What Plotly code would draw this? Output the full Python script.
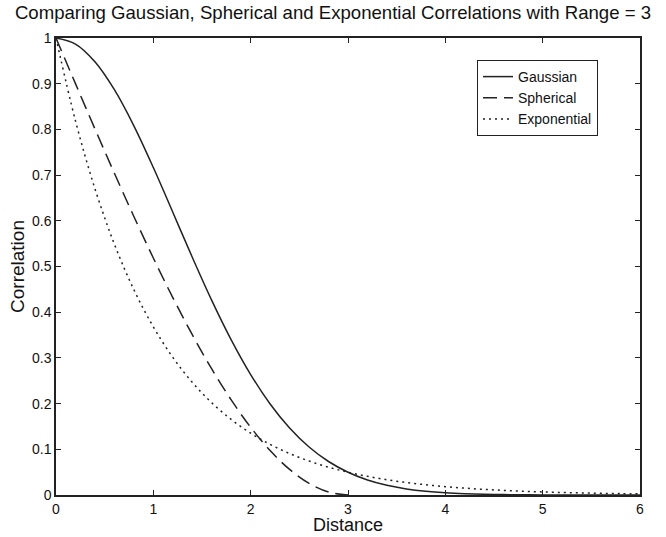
import plotly.graph_objects as go

distance = [0.0, 0.2, 0.4, 0.6, 0.8, 1.0, 1.2, 1.4, 1.6, 1.8, 2.0, 2.2, 2.4, 2.6, 2.8, 3.0,
            3.2, 3.4, 3.6, 3.8, 4.0, 4.2, 4.4, 4.6, 4.8, 5.0, 5.2, 5.4, 5.6, 5.8, 6.0]
gaussian = [1.0, 0.9868, 0.9481, 0.8869, 0.8079, 0.7165, 0.6188, 0.5203, 0.4260, 0.3396,
            0.2636, 0.1992, 0.1466, 0.1050, 0.0733, 0.0498, 0.0329, 0.0212, 0.0133, 0.0081,
            0.0048, 0.0028, 0.0016, 0.0009, 0.0005, 0.0002, 0.0001, 0.0001, 0.0, 0.0, 0.0]
distance_sph = [0.0, 0.2, 0.4, 0.6, 0.8, 1.0, 1.2, 1.4, 1.6, 1.8, 2.0, 2.2, 2.4, 2.6, 2.8, 3.0]
spherical = [1.0, 0.9001, 0.8012, 0.7040, 0.6095, 0.5185, 0.4320, 0.3508, 0.2759, 0.2080,
             0.1481, 0.0972, 0.0560, 0.0255, 0.0065, 0.0]
exponential = [1.0, 0.8187, 0.6703, 0.5488, 0.4493, 0.3679, 0.3012, 0.2466, 0.2019, 0.1653,
               0.1353, 0.1108, 0.0907, 0.0743, 0.0608, 0.0498, 0.0408, 0.0334, 0.0273, 0.0224,
               0.0183, 0.0150, 0.0123, 0.0101, 0.0082, 0.0067, 0.0055, 0.0045, 0.0037, 0.0030, 0.0025]

x_ticks = [0, 1, 2, 3, 4, 5, 6]
y_ticks = [0, 0.1, 0.2, 0.3, 0.4, 0.5, 0.6, 0.7, 0.8, 0.9, 1]
y_ticktext = ["0", "0.1", "0.2", "0.3", "0.4", "0.5", "0.6", "0.7", "0.8", "0.9", "1"]
x_title = "Distance"

FONT = "Liberation Sans, Arial, Helvetica, sans-serif"
W, H = 666, 537
ML, MR, MT, MB = 56, 26, 38, 42
PLOT_H = H - MT - MB

fig = go.Figure()
fig.add_trace(go.Scatter(x=distance, y=gaussian, mode="lines", name="Gaussian",
                         line=dict(color="#222", width=1.5, dash="solid", shape="spline")))
fig.add_trace(go.Scatter(x=distance_sph, y=spherical, mode="lines", name="Spherical",
                         line=dict(color="#222", width=1.5, dash="14px,7px", shape="spline")))
fig.add_trace(go.Scatter(x=distance, y=exponential, mode="lines", name="Exponential",
                         line=dict(color="#222", width=1.5, dash="2px,4px", shape="spline")))

axis_common = dict(showline=True, linecolor="#222", linewidth=1.5, mirror="ticks",
                   ticks="inside", ticklen=5, tickcolor="#222", tickwidth=1,
                   showgrid=False, zeroline=False, automargin=False,
                   tickfont=dict(family=FONT, size=14, color="#111"))

fig.update_layout(
    width=W, height=H,
    margin=dict(l=ML, r=MR, t=MT, b=MB, autoexpand=False),
    paper_bgcolor="white", plot_bgcolor="white",
    title=dict(text="Comparing Gaussian, Spherical and Exponential Correlations with Range = 3",
               x=0.5, xanchor="center", y=0.976, yanchor="middle",
               font=dict(family=FONT, size=18.6, color="#111")),
    xaxis=dict(range=[0, 6], tickvals=x_ticks, ticklabelstandoff=0, **axis_common),
    yaxis=dict(range=[0, 1], tickvals=y_ticks, ticktext=y_ticktext, ticklabelstandoff=0,
               title=dict(text="Correlation", font=dict(family=FONT, size=19, color="#111"), standoff=2),
               **axis_common),
    legend=dict(x=(477 - ML) / (W - ML - MR), y=(H - MB - 60) / PLOT_H, xanchor="left", yanchor="top",
                bgcolor="white", bordercolor="#222", borderwidth=1,
                font=dict(family=FONT, size=14, color="#111"),
                tracegroupgap=0, itemwidth=30),
    showlegend=True,
    annotations=[dict(text=x_title, xref="paper", yref="paper", x=0.5, y=-MB / PLOT_H,
                      xanchor="center", yanchor="bottom", showarrow=False,
                      font=dict(family=FONT, size=18, color="#111"))],
)

fig.write_html("out.html")
